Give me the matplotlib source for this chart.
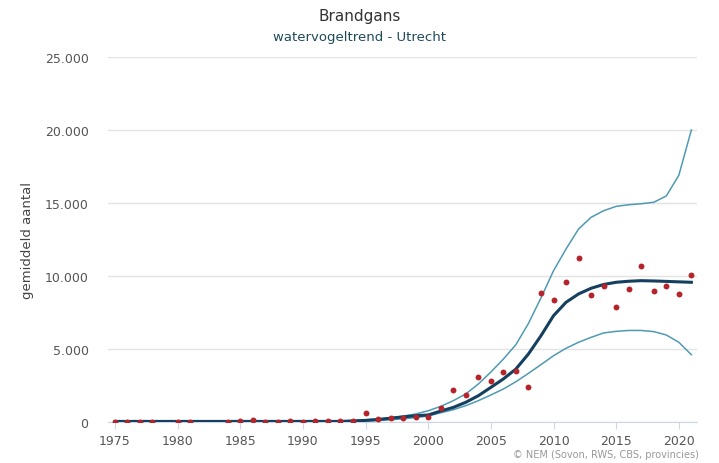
import matplotlib.pyplot as plt
import matplotlib.ticker as mticker

# yearly counts (dots)
years_obs = [1975, 1976, 1977, 1978, 1980, 1981, 1984, 1985, 1986, 1987, 1988, 1989,
             1990, 1991, 1992, 1993, 1994, 1995, 1996, 1997, 1998, 1999, 2000, 2001,
             2002, 2003, 2004, 2005, 2006, 2007, 2008, 2009, 2010, 2011, 2012, 2013,
             2014, 2015, 2016, 2017, 2018, 2019, 2020, 2021]
counts = [30, 30, 30, 30, 30, 30, 30, 40, 120, 30, 30, 40,
          30, 40, 40, 40, 100, 620, 200, 260, 300, 330, 350, 940,
          2210, 1870, 3080, 2830, 3420, 3490, 2370, 8860, 8380, 9590, 11250, 8680,
          9290, 7900, 9110, 10690, 8950, 9340, 8790, 10050]

# trend with confidence band
years = list(range(1975, 2022))
trend = [40] * 19 + [70, 110, 170, 260, 350, 430, 480, 750, 1000, 1350, 1800, 2370,
                     2950, 3630, 4660, 5910, 7280, 8200, 8770, 9160, 9420, 9570,
                     9640, 9680, 9660, 9630, 9600, 9570]
upper = [60] * 19 + [110, 150, 200, 300, 400, 550, 770, 1070, 1460, 1920, 2600, 3420,
                     4310, 5300, 6750, 8500, 10360, 11850, 13220, 14020, 14470, 14770,
                     14880, 14950, 15050, 15480, 16900, 20000]
lower = [20] * 19 + [40, 70, 100, 150, 220, 300, 410, 630, 840, 1120, 1460, 1850,
                     2260, 2760, 3330, 3930, 4540, 5050, 5460, 5800, 6100, 6210,
                     6270, 6270, 6190, 5960, 5460, 4610]

fig = plt.figure(figsize=(7.19, 4.64), dpi=100)
ax = fig.add_axes([108 / 719, 41 / 464, 589 / 719, 365 / 464])

ax.plot(years, upper, color='#4f9ab3', lw=1.1, zorder=3)
ax.plot(years, lower, color='#4f9ab3', lw=1.1, zorder=3)
ax.plot(years, trend, color='#153f5e', lw=2.2, zorder=4)
ax.scatter(years_obs, counts, s=18, color='#b5232b', zorder=5, linewidths=0)

ax.set_xlim(1974.45, 2021.45)
ax.set_ylim(0, 25000)
ax.set_yticks(range(0, 25001, 5000))
ax.yaxis.set_major_formatter(mticker.FuncFormatter(lambda v, p: f'{int(v):,}'.replace(',', '.')))
ax.set_xticks(range(1975, 2021, 5))

ax.grid(axis='y', color='#e3e3e3', lw=1)
ax.set_axisbelow(True)
for s in ['top', 'right', 'left']:
    ax.spines[s].set_visible(False)
ax.spines['bottom'].set_color('#ccd6eb')
ax.tick_params(axis='y', length=0, labelsize=9, labelcolor='#555555', pad=14)
ax.tick_params(axis='x', length=5, color='#ccd6eb', labelsize=9, labelcolor='#555555', pad=4)
ax.set_ylabel('gemiddeld aantal', fontsize=9.5, color='#444444', labelpad=8)

fig.text(0.5, 1 - 17 / 464, 'Brandgans', ha='center', va='center', fontsize=11, color='#333333')
fig.text(0.5, 1 - 38 / 464, 'watervogeltrend - Utrecht', ha='center', va='center',
         fontsize=9.5, color='#1f4a5c', fontweight='medium')
fig.text(1 - 20 / 719, 1 - 455 / 464, '\u00a9 NEM (Sovon, RWS, CBS, provincies)', ha='right',
         va='center', fontsize=7, color='#999999')

fig.savefig('out.png', dpi=100)
